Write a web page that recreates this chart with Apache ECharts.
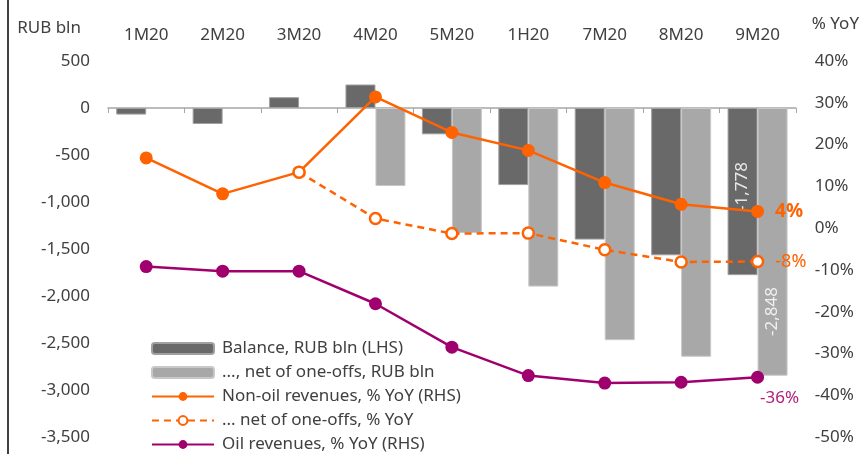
<!DOCTYPE html>
<html>
<head>
<meta charset="utf-8">
<script src="https://cdn.jsdelivr.net/npm/echarts@6/dist/echarts.min.js"></script>
<style>html,body{margin:0;padding:0;background:#fff;}#c{width:862px;height:454px;}</style>
</head>
<body>
<div id="c"></div>
<script>
const categories = ['1M20','2M20','3M20','4M20','5M20','1H20','7M20','8M20','9M20'];
const balance = [-70,-170,115,250,-280,-820,-1400,-1567,-1778];
const balanceNet = [null,null,null,-830,-1330,-1900,-2470,-2646,-2848];
const nonOil = [16.8,8.2,13.4,31.4,22.9,18.6,10.9,5.7,4.0];
const nonOilNet = [null,null,13.4,2.3,-1.3,-1.2,-5.2,-8.1,-8.0];
const oil = [-9.2,-10.3,-10.3,-18.1,-28.5,-35.3,-37.1,-36.9,-35.7];
const leftAxis = {min:-3500, max:500, interval:500};
const rightAxis = {min:-50, max:40, interval:10};
const names = ['Balance, RUB bln (LHS)','..., net of one-offs, RUB bln','Non-oil revenues, % YoY (RHS)','... net of one-offs, % YoY','Oil revenues, % YoY (RHS)'];

const FONT = 'Noto Sans';
const ORANGE = '#FF6200';
const PURPLE = '#A0006E';
const TXT = '#404040';
const last = categories.length - 1;

function withLastLabel(arr){
  return arr.map((v,i)=> i===last ? {value:v, label:{show:true}} : v);
}
const fmtNum = v => Number(v).toLocaleString('en-US');
const fmtPct = p => Math.round(p.value) + '%';

const chart = echarts.init(document.getElementById('c'));
chart.setOption({
  animation:false,
  textStyle:{fontFamily:FONT},
  grid:{left:108, right:65, top:61, bottom:17},
  graphic:[{type:'line', shape:{x1:8,y1:0,x2:8,y2:454}, style:{stroke:'#000', lineWidth:1.5}}],
  legend:{
    orient:'vertical', left:146, top:335, height:160, itemWidth:62, itemHeight:11, itemGap:7,
    textStyle:{fontSize:17, color:TXT, fontFamily:FONT, lineHeight:17, padding:[0,0,0,3]},
    data:names
  },
  xAxis:[
    {type:'category', data:categories, position:'top',
     axisLine:{show:false, onZero:false}, axisTick:{show:false},
     axisLabel:{fontSize:17, color:TXT, margin:17, fontFamily:FONT}},
    {type:'category', data:categories, position:'bottom',
     axisLine:{show:true, onZero:true, onZeroAxisIndex:0, lineStyle:{color:'#a6a6a6', width:1.5}},
     axisTick:{show:true, length:5, lineStyle:{color:'#a6a6a6'}},
     axisLabel:{show:false}}
  ],
  yAxis:[
    {type:'value', min:leftAxis.min, max:leftAxis.max, interval:leftAxis.interval,
     name:'RUB bln', nameLocation:'end', nameGap:24,
     nameTextStyle:{fontSize:17, color:TXT, align:'right', padding:[0,27,0,0], fontFamily:FONT},
     axisLine:{show:false}, axisTick:{show:false}, splitLine:{show:false},
     axisLabel:{fontSize:17, color:TXT, margin:18, formatter:fmtNum, fontFamily:FONT}},
    {type:'value', min:rightAxis.min, max:rightAxis.max, interval:rightAxis.interval,
     name:'% YoY', nameLocation:'end', nameGap:28,
     nameTextStyle:{fontSize:17, color:TXT, align:'left', padding:[0,0,0,16], fontFamily:FONT},
     axisLine:{show:false}, axisTick:{show:false}, splitLine:{show:false},
     axisLabel:{fontSize:17, color:TXT, margin:19, formatter:v=>v+'%', fontFamily:FONT}}
  ],
  series:[
    {name:names[0], type:'bar', xAxisIndex:0, yAxisIndex:0, barWidth:30, barGap:'0%',
     itemStyle:{color:'#696969', borderColor:'#a0a0a0', borderWidth:1},
     label:{show:false, position:['50%','47%'], rotate:90, align:'center', verticalAlign:'middle',
       color:'#e8e8e8', fontSize:17, fontFamily:FONT, formatter:p=>fmtNum(p.value)},
     data:withLastLabel(balance)},
    {name:names[1], type:'bar', xAxisIndex:0, yAxisIndex:0, barWidth:30, barGap:'0%',
     itemStyle:{color:'#a8a8a8', borderColor:'#c8c8c8', borderWidth:1},
     label:{show:false, position:['50%','76%'], rotate:90, align:'center', verticalAlign:'middle',
       color:'#f0f0f0', fontSize:17, fontFamily:FONT, formatter:p=>fmtNum(p.value)},
     data:withLastLabel(balanceNet)},
    {name:names[2], type:'line', xAxisIndex:0, yAxisIndex:1, symbol:'circle', symbolSize:13,
     lineStyle:{color:ORANGE, width:2.5}, itemStyle:{color:ORANGE},
     label:{show:false, position:'right', distance:11, color:ORANGE, fontSize:19, fontWeight:'bold', fontFamily:FONT, formatter:fmtPct},
     data:withLastLabel(nonOil)},
    {name:names[3], type:'line', xAxisIndex:0, yAxisIndex:1, symbol:'circle', symbolSize:11,
     lineStyle:{color:ORANGE, width:2.5, type:[7,5]}, itemStyle:{color:'#fff', borderColor:ORANGE, borderWidth:2.5},
     label:{show:false, position:'right', distance:11, color:ORANGE, fontSize:18, fontFamily:FONT, formatter:fmtPct},
     data:withLastLabel(nonOilNet)},
    {name:names[4], type:'line', xAxisIndex:0, yAxisIndex:1, symbol:'circle', symbolSize:13,
     lineStyle:{color:PURPLE, width:2.5}, itemStyle:{color:PURPLE},
     label:{show:false, position:'bottom', distance:6, offset:[22,0], color:'#b0207e', fontSize:17, fontFamily:FONT, formatter:fmtPct},
     data:withLastLabel(oil)}
  ]
});
</script>
</body>
</html>
